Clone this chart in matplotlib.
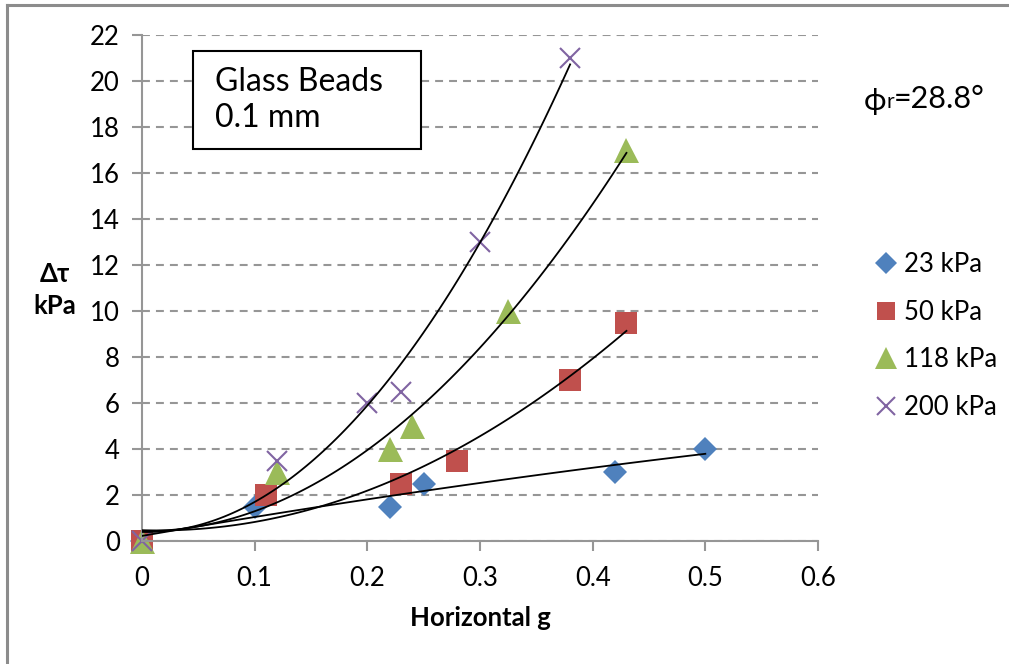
import matplotlib
matplotlib.use("Agg")
import matplotlib.pyplot as plt
from matplotlib.lines import Line2D
from matplotlib.patches import Rectangle
import numpy as np

plt.rcParams['font.family'] = ['Lato', 'DejaVu Sans']

# horizontal acceleration (g) and shear stress increase (kPa) per normal stress
x_23 = [0, 0.10, 0.22, 0.25, 0.42, 0.50]
y_23 = [0, 1.5, 1.5, 2.5, 3.0, 4.0]
x_50 = [0, 0.11, 0.23, 0.28, 0.38, 0.43]
y_50 = [0, 2.0, 2.5, 3.5, 7.0, 9.5]
x_118 = [0, 0.12, 0.22, 0.24, 0.325, 0.43]
y_118 = [0, 3.0, 4.0, 5.0, 10.0, 17.0]
x_200 = [0, 0.12, 0.20, 0.23, 0.30, 0.38]
y_200 = [0, 3.5, 6.0, 6.5, 13.0, 21.0]

labels = ["23 kPa", "50 kPa", "118 kPa", "200 kPa"]
xticks = [0, 0.1, 0.2, 0.3, 0.4, 0.5, 0.6]
yticks = list(range(0, 23, 2))

# marker, colour, size on plot, size in legend
series = [
    (x_23, y_23, "D", "#4F81BD", 12.5, 11.5),
    (x_50, y_50, "s", "#C0504D", 15.5, 13.5),
    (x_118, y_118, "^", "#9BBB59", 18, 16),
    (x_200, y_200, "x", "#8064A2", 14, 13),
]

fig = plt.figure(figsize=(10.09, 6.64), dpi=100)
ax = fig.add_axes([0.1407, 0.1852, 0.67, 0.7621])

handles = []
for (xs, ys, m, c, ms, lms), lab in zip(series, labels):
    # 2nd order polynomial trend line over the data range
    p = np.polyfit(xs, ys, 2)
    xf = np.linspace(0, max(xs), 100)
    ax.plot(xf, np.polyval(p, xf), color="black", lw=1.3, zorder=3)
    mew = 1.5 if m == "x" else 0
    ax.plot(xs, ys, ls="none", marker=m, ms=ms, mew=mew, color=c, zorder=2,
            clip_on=False)
    handles.append(Line2D([], [], ls="none", marker=m, ms=lms, color=c,
                          mew=mew, label=lab))

ax.set_xlim(0, 0.6)
ax.set_ylim(0, 22)
ax.set_xticks(xticks)
ax.set_xticklabels(["0", "0.1", "0.2", "0.3", "0.4", "0.5", "0.6"])
ax.set_yticks(yticks)
ax.yaxis.grid(True, color="#969696", ls=(0, (3.8, 2.9)), lw=1.5)
ax.set_axisbelow(True)
for s in ["top", "right"]:
    ax.spines[s].set_visible(False)
for s in ["left", "bottom"]:
    ax.spines[s].set_color("#969696")
    ax.spines[s].set_linewidth(1.5)
ax.tick_params(axis="both", color="#969696", width=1.5, length=7,
               labelsize=18.5)
ax.tick_params(axis="y", pad=9)
ax.tick_params(axis="x", pad=11)

ax.set_xlabel("Horizontal g", fontsize=18.5, fontweight="bold", labelpad=11)
fig.text(0.054, 0.563, "Δτ\nkPa", fontsize=18.5, fontweight="bold",
         ha="center", va="center", linespacing=1.4)

# sample description box
fig.add_artist(Rectangle((0.1913, 0.7756), 0.226, 0.1476, fc="white",
                         ec="black", lw=1.5, transform=fig.transFigure,
                         zorder=5))
fig.text(0.213, 0.849, "Glass Beads\n0.1 mm", fontsize=23, ha="left",
         va="center", linespacing=1.25, zorder=6)

# friction angle, subscript r chained after the phi
phi = fig.text(0.856, 0.848, "ϕ", fontsize=22, ha="left", va="center")
sub = ax.annotate("r", xy=(1, 0.12), xycoords=phi, fontsize=15,
                  ha="left", va="bottom")
ax.annotate("=28.8°", xy=(1, 0), xycoords=sub, xytext=(0, -1.2),
            textcoords="offset points", fontsize=22, ha="left", va="bottom")

fig.legend(handles=handles, loc="upper left", bbox_to_anchor=(0.858, 0.636),
           frameon=False, fontsize=18.5, handlelength=0.8, handletextpad=0.3,
           labelspacing=0.88, borderaxespad=0)

# chart border
fig.add_artist(Line2D([0.007, 0.007], [0, 0.992], color="#8c8c8c", lw=2.2,
                      transform=fig.transFigure))
fig.add_artist(Line2D([0.007, 1], [0.992, 0.992], color="#8c8c8c", lw=2.2,
                      transform=fig.transFigure))

fig.savefig("out.png", dpi=100, facecolor="white")
